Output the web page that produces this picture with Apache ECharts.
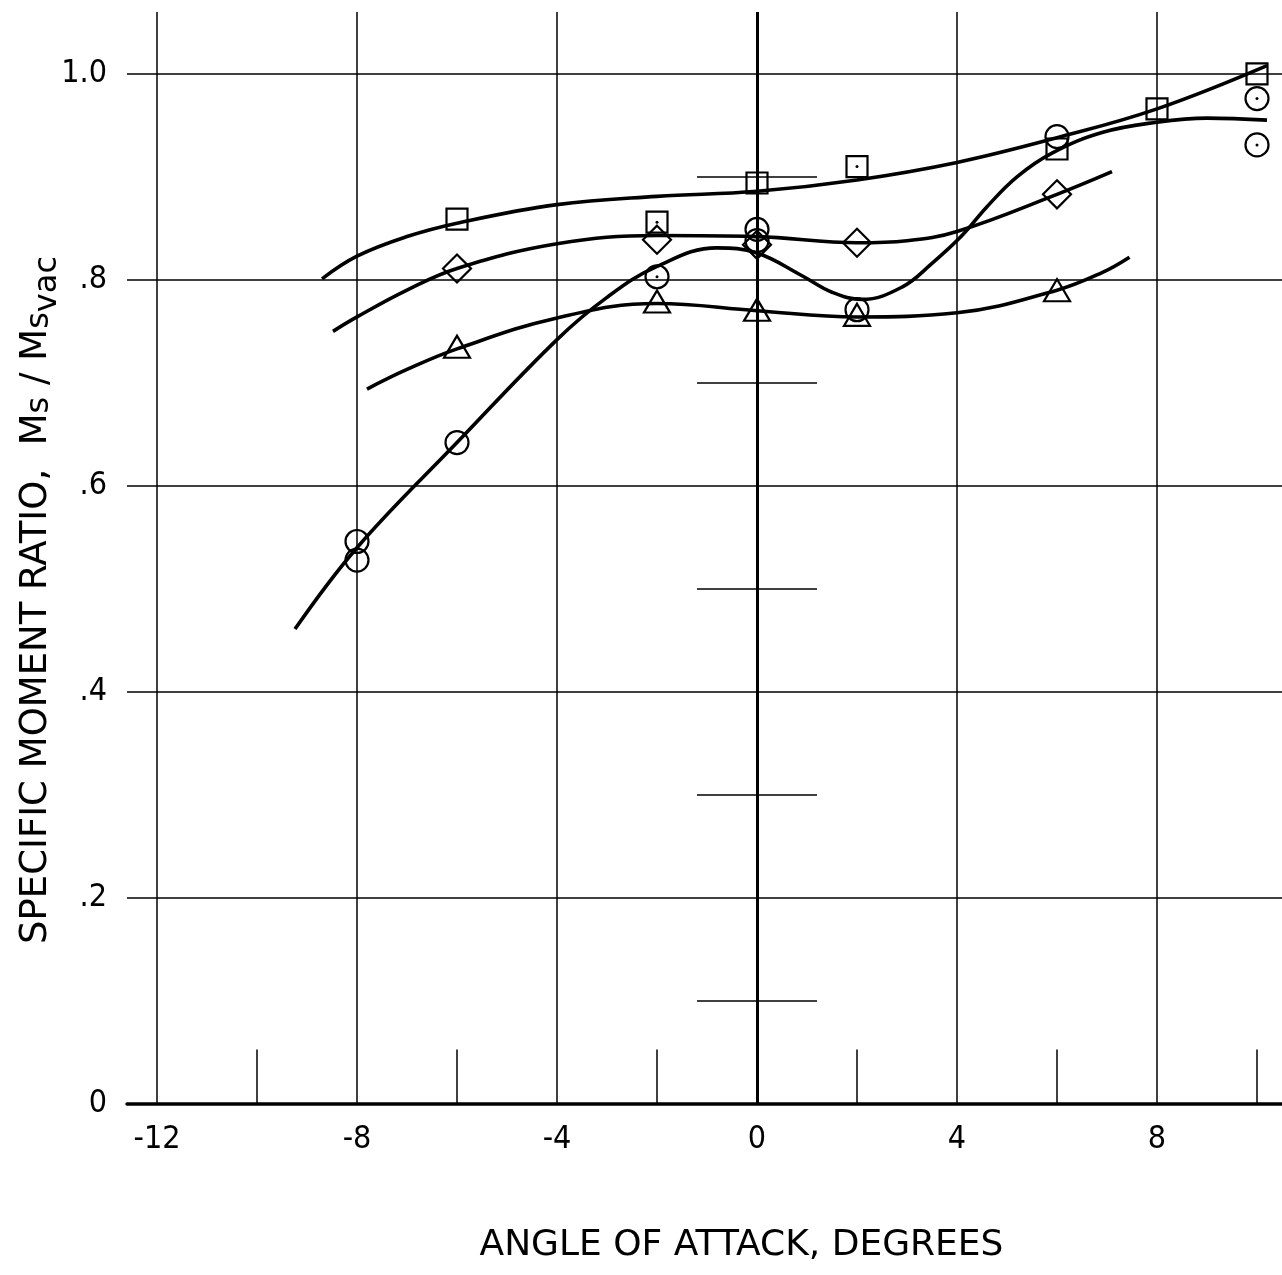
<!DOCTYPE html>
<html>
<head>
<meta charset="utf-8">
<title>Specific moment ratio vs angle of attack</title>
<script src="https://cdn.jsdelivr.net/npm/echarts@6/dist/echarts.min.js"></script>
<style>
  html, body { margin: 0; padding: 0; background: #fff; }
  #chart { width: 1282px; height: 1275px; }
</style>
</head>
<body>
<div id="chart"></div>
<script>
/* ---------- ticks / grid ---------- */
const xTickLabels = [-12, -8, -4, 0, 4, 8]
const xMajorLines = [-12, -8, -4, 4, 8]
const xMinorTicks = [-10, -6, -2, 2, 6, 10]
const yGridValues = [0.2, 0.4, 0.6, 0.8, 1.0]
const yCenterTicks = [0.1, 0.3, 0.5, 0.7, 0.9]

const squareX = [-6, -2, 0, 2, 6, 8, 10]
const squareY = [0.859, 0.856, 0.894, 0.910, 0.927, 0.966, 1.0]
const squareDotted = [1, 3]

const diamondX = [-6, -2, 0, 2, 6]
const diamondY = [0.811, 0.839, 0.834, 0.836, 0.883]

const triangleX = [-6, -2, 0, 2, 6]
const triangleY = [0.735, 0.779, 0.771, 0.766, 0.790]

const circleX = [-8, -8, -6, -2, 0, 0, 2, 6, 10, 10]
const circleY = [0.546, 0.528, 0.642, 0.803, 0.849, 0.838, 0.771, 0.939, 0.976, 0.931]
const circleDotted = [3, 8, 9]

/* ---------- faired curves ---------- */
const squareCurveX = [-8.7, -8, -7, -6, -4, -2, 0, 2, 4, 6, 8, 10.2]
const squareCurveY = [0.801, 0.823, 0.842, 0.855, 0.873, 0.881, 0.886, 0.897, 0.914, 0.938, 0.966, 1.008]

const diamondCurveX = [-8.48, -8, -7, -6, -4, -2, 0, 2, 3, 4, 6, 7.1]
const diamondCurveY = [0.750, 0.764, 0.790, 0.811, 0.835, 0.843, 0.842, 0.836, 0.838, 0.847, 0.883, 0.905]

const triangleCurveX = [-7.8, -7, -6, -4, -2, 0, 2, 4, 6, 6.9, 7.45]
const triangleCurveY = [0.694, 0.713, 0.733, 0.763, 0.777, 0.770, 0.764, 0.768, 0.790, 0.807, 0.822]

const circleCurveX = [-9.24, -8, -6, -4, -3, -2, -0.8, 0, 0.9, 1.5, 2.1, 2.9, 3.5, 4.1, 4.6, 5.2, 5.9, 6.9, 8, 9, 10.2]
const circleCurveY = [0.461, 0.540, 0.642, 0.742, 0.783, 0.813, 0.831, 0.826, 0.804, 0.788, 0.781, 0.793, 0.816, 0.843, 0.871, 0.900, 0.923, 0.943, 0.953, 0.957, 0.955]

const ink = '#000'
const tickFont = '"DejaVu Sans Condensed", "Liberation Sans Narrow", "Liberation Sans", sans-serif'
const nameFont = '"DejaVu Sans", "Liberation Sans", sans-serif'

function zip(xs, ys) {
  return xs.map((x, i) => [x, ys[i]])
}

function curve(xs, ys) {
  return {
    type: 'line',
    data: zip(xs, ys),
    smooth: 0.4,
    showSymbol: false,
    lineStyle: { color: ink, width: 3.6 },
    z: 3
  }
}

function markers(xs, ys, symbol, size) {
  return {
    type: 'scatter',
    data: zip(xs, ys),
    symbol: symbol,
    symbolSize: size,
    itemStyle: { color: 'rgba(255,255,255,0)', borderColor: ink, borderWidth: 2.2, opacity: 1 },
    z: 4
  }
}

/* center dots on some of the open symbols */
const dotData = squareDotted.map(i => [squareX[i], squareY[i]])
  .concat(circleDotted.map(i => [circleX[i], circleY[i]]))

/* grid lines drawn through the axes as mark lines */
const thin = { color: ink, width: 1.5, type: 'solid' }
const gridLines = []
  .concat(xMajorLines.map(v => ({ xAxis: v, lineStyle: thin })))
  .concat([{ xAxis: 0, lineStyle: { color: ink, width: 3, type: 'solid' } }])
  .concat(yGridValues.map(v => ({ yAxis: v, lineStyle: thin })))
  .concat(xMinorTicks.map(v => [{ coord: [v, 0], lineStyle: thin }, { coord: [v, 0.053] }]))
  .concat(yCenterTicks.map(v => [{ coord: [-1.2, v], lineStyle: thin }, { coord: [1.2, v] }]))

const chart = echarts.init(document.getElementById('chart'))

chart.setOption({
  animation: false,
  backgroundColor: '#fff',
  grid: { left: 127, right: 0, top: 12, bottom: 171, containLabel: false, outerBoundsMode: 'none' },
  /* y title is placed by hand: rotated text with subscripts */
  graphic: [
    {
      type: 'text',
      x: 36,
      y: 600,
      rotation: Math.PI / 2,
      style: {
        text: 'SPECIFIC MOMENT RATIO,  M{s|s} / M{s|s}{v|vac}',
        fill: ink,
        font: '37px ' + nameFont,
        align: 'center',
        verticalAlign: 'middle',
        rich: {
          s: { fontSize: 32, fontFamily: nameFont, fill: ink, padding: [8, 0, 0, 0] },
          v: { fontSize: 32, fontFamily: nameFont, fill: ink, padding: [24, 0, 0, 0] }
        }
      }
    }
  ],
  xAxis: {
    type: 'value',
    min: -12.6,
    max: 10.5,
    axisLine: { show: true, onZero: false, lineStyle: { color: ink, width: 3.5 } },
    axisTick: { show: false },
    splitLine: { show: false },
    axisLabel: {
      customValues: xTickLabels,
      color: ink,
      fontSize: 32,
      fontFamily: tickFont,
      margin: 20
    },
    name: 'ANGLE OF ATTACK, DEGREES',
    nameLocation: 'middle',
    nameGap: 124,
    nameTextStyle: { color: ink, fontSize: 36, fontFamily: nameFont, padding: [0, 0, 0, 74] }
  },
  yAxis: {
    type: 'value',
    min: 0,
    max: 1.06,
    interval: 0.2,
    axisLine: { show: false },
    axisTick: { show: false },
    splitLine: { show: false },
    axisLabel: {
      color: ink,
      fontSize: 32,
      fontFamily: tickFont,
      margin: 20,
      showMaxLabel: false,
      formatter: v => {
        const k = Math.round(v * 10)
        if (Math.abs(v * 10 - k) > 1e-6 || k % 2) return ''
        if (k === 0) return '0'
        if (k === 10) return '1.0'
        return '.' + k
      }
    }
  },
  series: [
    {
      type: 'line',
      data: [],
      z: 1,
      markLine: {
        silent: true,
        symbol: ['none', 'none'],
        label: { show: false },
        lineStyle: thin,
        data: gridLines
      }
    },
    curve(squareCurveX, squareCurveY),
    curve(diamondCurveX, diamondCurveY),
    curve(triangleCurveX, triangleCurveY),
    curve(circleCurveX, circleCurveY),
    markers(squareX, squareY, 'rect', 21),
    markers(diamondX, diamondY, 'diamond', [28, 28]),
    markers(triangleX, triangleY, 'triangle', [26, 22]),
    markers(circleX, circleY, 'circle', 23),
    {
      type: 'scatter',
      data: dotData,
      symbol: 'circle',
      symbolSize: 3,
      itemStyle: { color: ink, opacity: 1 },
      z: 5
    }
  ]
})
</script>
</body>
</html>
